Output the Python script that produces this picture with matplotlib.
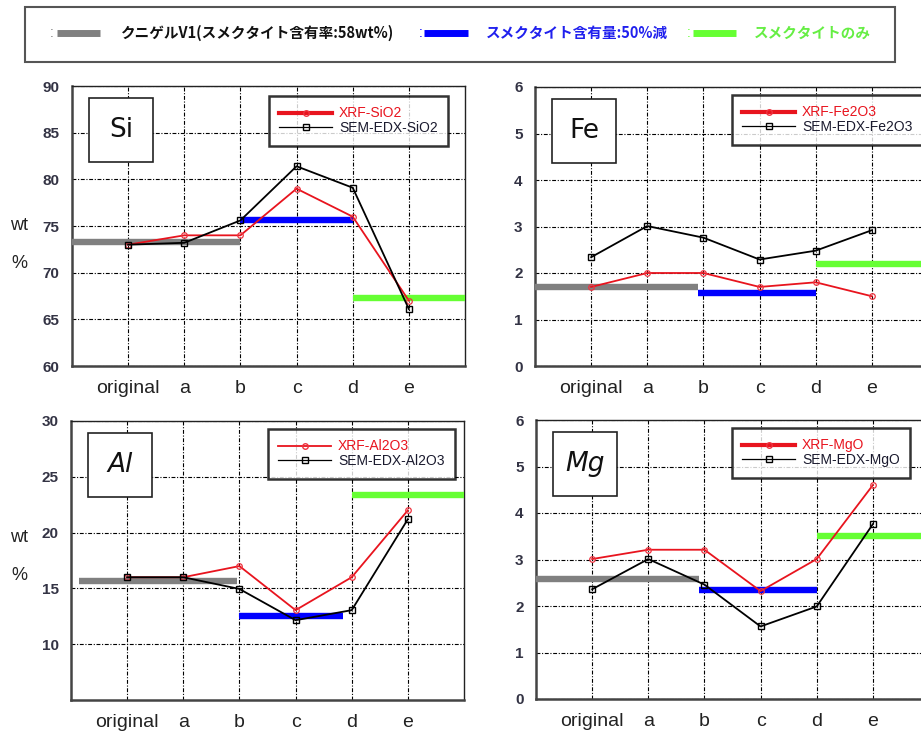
import matplotlib
matplotlib.use("Agg")
import matplotlib.pyplot as plt
from matplotlib.lines import Line2D
from matplotlib.patches import Rectangle

# ---------------- data ----------------
categories = ["original", "a", "b", "c", "d", "e"]

elements = ["Si", "Fe", "Al", "Mg"]
oxides = ["SiO2", "Fe2O3", "Al2O3", "MgO"]

xrf_si = [73.0, 74.0, 74.0, 79.0, 76.0, 67.0]
sem_si = [73.0, 73.2, 75.6, 81.4, 79.1, 66.1]

xrf_fe = [1.70, 2.00, 2.00, 1.70, 1.80, 1.50]
sem_fe = [2.34, 3.01, 2.76, 2.29, 2.48, 2.92]

xrf_al = [16.0, 16.0, 17.0, 13.05, 16.0, 22.0]
sem_al = [16.0, 16.0, 14.95, 12.15, 13.05, 21.2]

xrf_mg = [3.01, 3.21, 3.21, 2.32, 3.01, 4.60]
sem_mg = [2.36, 3.01, 2.46, 1.56, 1.99, 3.76]

# reference levels: (value, x-start, x-end) in category units
ref_gray = {"Si": (73.3, 0.0, 3.0), "Fe": (1.69, 0.0, 2.9),
            "Al": (15.7, 0.15, 2.95), "Mg": (2.58, 0.0, 2.9)}
ref_blue = {"Si": (75.6, 3.0, 5.0), "Fe": (1.58, 2.9, 5.0),
            "Al": (12.5, 3.0, 4.85), "Mg": (2.34, 2.9, 5.0)}
ref_green = {"Si": (67.3, 5.0, 7.0), "Fe": (2.19, 5.0, 7.0),
             "Al": (23.4, 5.0, 7.0), "Mg": (3.5, 5.0, 7.0)}

ylims = {"Si": (60, 90), "Fe": (0, 6), "Al": (5, 30), "Mg": (0, 6)}
yticks = {"Si": [60, 65, 70, 75, 80, 85, 90], "Fe": [0, 1, 2, 3, 4, 5, 6],
          "Al": [10, 15, 20, 25, 30], "Mg": [0, 1, 2, 3, 4, 5, 6]}

series = {"Si": (xrf_si, sem_si), "Fe": (xrf_fe, sem_fe),
          "Al": (xrf_al, sem_al), "Mg": (xrf_mg, sem_mg)}

legend_texts = ["クニゲルV1(スメクタイト含有率:58wt%)",
                "スメクタイト含有量:50%減",
                "スメクタイトのみ"]

# ---------------- layout (pixels) ----------------
W, H = 921, 735
GRAY, BLUE, GREEN = "#808080", "#0000ff", "#66ff33"

fig = plt.figure(figsize=(W / 100, H / 100), dpi=100)
plt.rcParams["font.family"] = ["Liberation Sans", "DejaVu Sans"]


def fx(px):
    return px / W


def fy(py):
    return 1 - py / H


# axes rectangles: left, top, width, height (pixels)
ax_px = {"Si": (72, 86, 393, 280), "Fe": (535, 87, 393, 279),
         "Al": (71, 421, 393, 279), "Mg": (536, 420, 393, 279)}
legend_px = {"Si": (269, 96), "Fe": (732, 95), "Al": (268, 429), "Mg": (732, 428)}
thick_legend = {"Si": True, "Fe": True, "Al": False, "Mg": True}

x = list(range(1, len(categories) + 1))
grid_style = (0, (3.5, 1.5, 1, 1.5))

for el, ox in zip(elements, oxides):
    l, t, w, h = ax_px[el]
    ax = fig.add_axes([fx(l), fy(t + h), fx(w), h / H])
    ax.set_xlim(0, 7)
    ax.set_ylim(*ylims[el])
    ax.set_xticks(x)
    ax.set_xticklabels(categories, fontsize=14, color="#222222")
    ax.set_yticks(yticks[el])
    ax.set_yticklabels([str(v) for v in yticks[el]], fontsize=11,
                       color="#333344", fontweight="bold")
    ax.tick_params(length=0)
    ax.tick_params(axis="x", pad=10)
    ax.tick_params(axis="y", pad=9)
    ax.grid(True, color="black", linestyle=grid_style, linewidth=0.8)
    ax.set_axisbelow(True)
    for s in ("left", "bottom"):
        ax.spines[s].set_color("#444444")
        ax.spines[s].set_linewidth(1.8)
    for s in ("top", "right"):
        ax.spines[s].set_color("#222222")
        ax.spines[s].set_linewidth(1.0)

    # reference bands
    for ref, col in ((ref_gray, GRAY), (ref_blue, BLUE), (ref_green, GREEN)):
        v, x0, x1 = ref[el]
        ax.plot([x0, x1], [v, v], color=col, linewidth=4.6,
                solid_capstyle="butt", zorder=3)

    xrf, sem = series[el]
    ax.plot(x, xrf, color="#e8141e", linewidth=1.3, marker="o", markersize=4,
            markerfacecolor="none", markeredgecolor="#ee3340",
            markeredgewidth=0.9, zorder=5)
    ax.plot(x, sem, color="black", linewidth=1.3, marker="s", markersize=5,
            markerfacecolor="none", markeredgecolor="black",
            markeredgewidth=1.0, zorder=6)

    # legend
    lw_red = 3.0 if thick_legend[el] else 1.3
    handles = [
        Line2D([], [], color="#e8141e", linewidth=lw_red, marker="o",
               markersize=4, markerfacecolor="none", markeredgecolor="#ee3340"),
        Line2D([], [], color="black", linewidth=0.9, marker="s", markersize=5,
               markerfacecolor="none", markeredgecolor="black"),
    ]
    lx, ly = legend_px[el]
    leg = fig.legend(handles, ["XRF-" + ox, "SEM-EDX-" + ox],
                     loc="upper left", bbox_to_anchor=(fx(lx), fy(ly)),
                     fontsize=10, frameon=True, fancybox=False,
                     handlelength=3.8, handletextpad=0.5, labelspacing=0.05,
                     borderpad=0.75, borderaxespad=0)
    leg.get_frame().set_edgecolor("black")
    leg.get_frame().set_linewidth(1.8)
    leg.get_texts()[0].set_color("#e8141e")
    leg.get_texts()[1].set_color("#1a1a2e")

    # element label box
    bx, by, bs = l + 17, t + 12, 64
    fig.add_artist(Rectangle((fx(bx), fy(by + bs)), fx(bs), bs / H,
                             transform=fig.transFigure, facecolor="white",
                             edgecolor="#222222", linewidth=1.2, zorder=10))
    fig.text(fx(bx + bs / 2), fy(by + bs / 2), el, fontsize=19,
             family="DejaVu Sans", ha="center", va="center",
             style="italic" if el in ("Al", "Mg") else "normal",
             color="#111111", zorder=11)

# y-axis labels on left panels
for yc in (225, 537):
    fig.text(fx(19), fy(yc), "wt", fontsize=13, ha="center", va="center",
             color="#222222")
    fig.text(fx(19), fy(yc + 38), "%", fontsize=13, ha="center", va="center",
             color="#222222")

# top legend box
fig.add_artist(Rectangle((fx(25), fy(62)), fx(895 - 25), 55 / H,
                         transform=fig.transFigure, facecolor="white",
                         edgecolor="#555555", linewidth=1.5))
cjk = ["Noto Sans CJK JP", "DejaVu Sans"]
ycen = 33
items = [(52, 57, 100, 121, GRAY, "#111111"),
         (421, 424, 468, 486, BLUE, "#2020ee"),
         (689, 693, 736, 754, GREEN, "#66ee44")]
for (cx, x0, x1, tx, col, tcol), txt in zip(items, legend_texts):
    fig.text(fx(cx), fy(ycen), ":", fontsize=10, ha="center", va="center",
             color=col)
    fig.add_artist(Line2D([fx(x0), fx(x1)], [fy(ycen), fy(ycen)],
                          transform=fig.transFigure, color=col, linewidth=5.0,
                          solid_capstyle="butt"))
    fig.text(fx(tx), fy(ycen), txt, fontsize=10.5, fontweight="bold",
             family=cjk, ha="left", va="center", color=tcol)

fig.savefig("out.png", dpi=100, facecolor="white")
